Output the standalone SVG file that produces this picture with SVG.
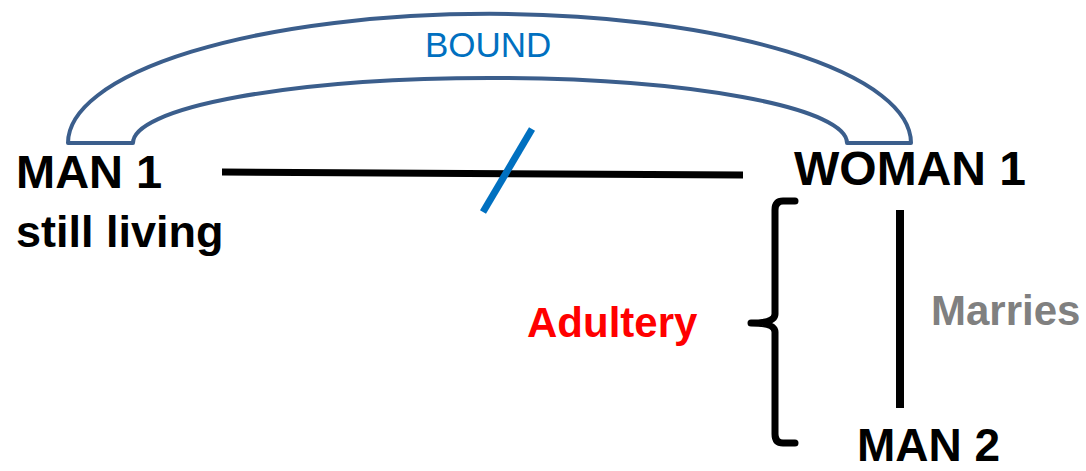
<svg xmlns="http://www.w3.org/2000/svg" width="1086" height="471" viewBox="0 0 1086 471">
<style>
.lbl{font-family:"Liberation Sans",Arial,sans-serif;font-weight:bold;fill:#000}
.ln{stroke:#000;stroke-width:7;fill:none}
</style>
<rect width="1086" height="471" fill="#fff"/>
<g id="bound">
<path d="M 68 143 A 421 129 0 0 1 911 143 L 847 143 A 357 65 0 0 0 133 143 Z" fill="#fff" stroke="#3B5E8C" stroke-width="4" stroke-linejoin="round"/>
<text x="425" y="57" font-family="Liberation Sans,Arial,sans-serif" font-size="35" fill="#0070C0">BOUND</text>
</g>
<g id="man1">
<text class="lbl" x="16" y="188" font-size="47">MAN 1</text>
<text class="lbl" x="16" y="247" font-size="45">still living</text>
</g>
<g id="woman1">
<text class="lbl" x="794" y="185" font-size="48">WOMAN 1</text>
</g>
<g id="man2">
<text class="lbl" x="857" y="461" font-size="46">MAN 2</text>
</g>
<g id="adultery">
<text class="lbl" x="527" y="337" font-size="42" style="fill:#FF0000">Adultery</text>
</g>
<g id="marries">
<text class="lbl" x="931" y="325" font-size="42" style="fill:#808080">Marries</text>
</g>
<g id="connectors">
<line class="ln" x1="222" y1="172" x2="743" y2="175"/>
<line x1="532" y1="129" x2="483" y2="212" stroke="#0070C0" stroke-width="7"/>
<path class="ln" stroke-linecap="round" stroke-linejoin="round" d="M 795 201 L 783 201 Q 775 201 775 210 L 775 314 Q 775 323 751 323 Q 775 323 775 332 L 775 434 Q 775 443 783 443 L 795 443"/>
<line x1="900" y1="210" x2="900" y2="408" stroke="#000" stroke-width="8"/>
</g>
</svg>
